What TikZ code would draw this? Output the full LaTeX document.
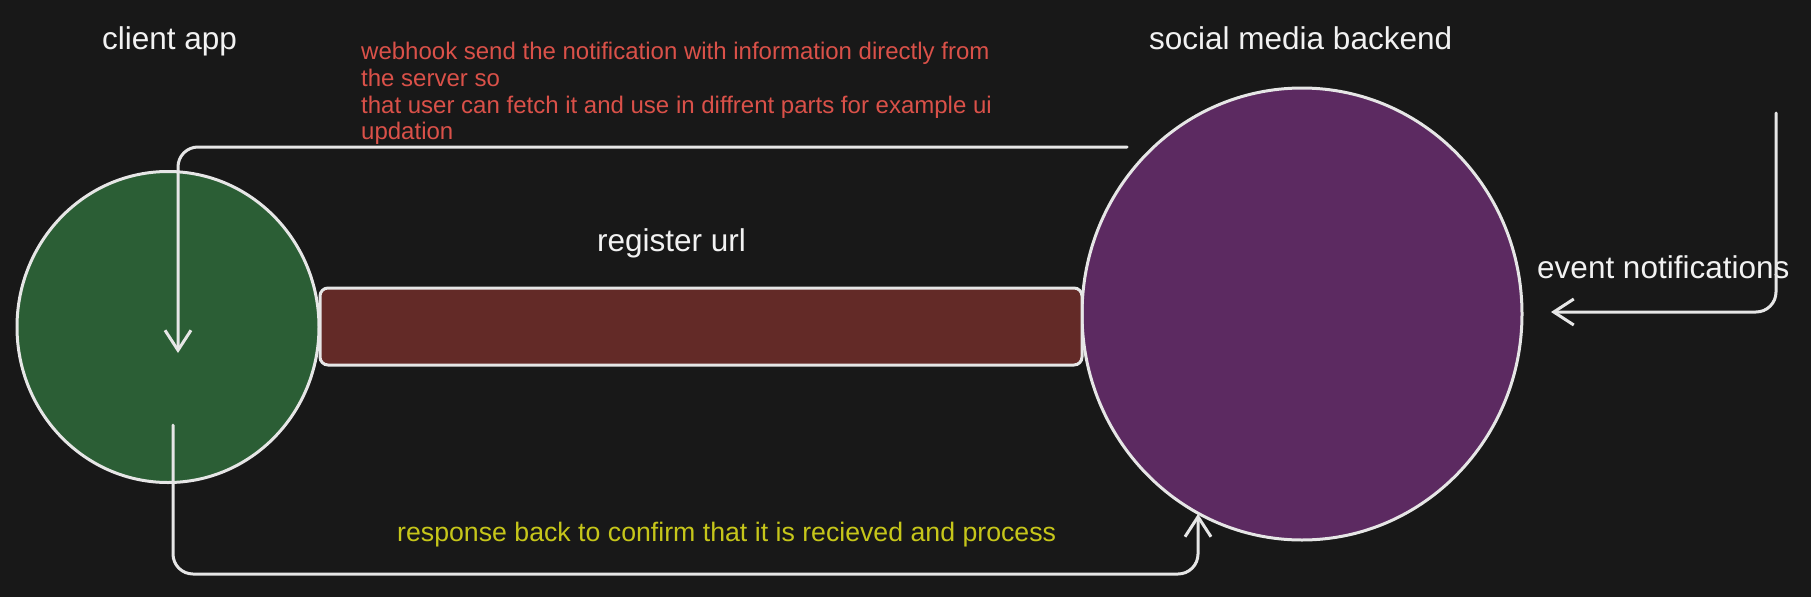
\documentclass[tikz,border=0pt]{standalone}
\usepackage{fontspec}
\setmainfont{Liberation Sans}
\usetikzlibrary{shapes.geometric,arrows.meta}
\definecolor{canvas}{HTML}{181818}
\definecolor{edge}{HTML}{E6E6E6}
\definecolor{clientgreen}{HTML}{2B5E35}
\definecolor{backendpurple}{HTML}{5C2A61}
\definecolor{barred}{HTML}{632A27}
\definecolor{hookred}{HTML}{DA5149}
\definecolor{replyyellow}{HTML}{C6C61A}
\definecolor{labelwhite}{HTML}{F2F2F2}

\begin{document}
\begin{tikzpicture}[x=1pt,y=-1pt,
  blob/.style={ellipse,draw=edge,line width=3pt,inner sep=0pt},
  wire/.style={draw=edge,line width=3pt,rounded corners=20pt,line cap=round,
    -{Straight Barb[length=20pt,width=26pt,line width=3pt]}},
  biglabel/.style={text=labelwhite,font=\fontsize{31.5}{36}\selectfont,inner sep=0pt,anchor=base west}]
\fill[canvas] (0,0) rectangle (1811,597);
\useasboundingbox (0,0) rectangle (1811,597);

% the two ends and the bar between them
\node[blob,fill=clientgreen,minimum width=302pt,minimum height=311pt] (client) at (168,327) {};
\node[blob,fill=backendpurple,minimum width=440pt,minimum height=452pt] (backend) at (1302,314) {};
\node[draw=edge,fill=barred,line width=3pt,rounded corners=8pt,minimum width=762pt,minimum height=77pt,inner sep=0pt] (regbar) at (701,326.5) {};

% labels
\node[biglabel] (clientlbl) at (102,49) {client app};
\node[biglabel] (backendlbl) at (1149,49) {social media backend};
\node[biglabel] (reglbl) at (597,251.5) {register url};
\node[biglabel] (eventlbl) at (1537,278.5) {event notifications};
\node[text=hookred,font=\fontsize{24}{26.8}\selectfont,inner sep=0pt,anchor=north west,align=left] (hooklbl) at (361,42)
  {webhook send the notification with information directly from\\the server so\\that user can fetch it and use in diffrent parts for example ui\\updation};
\node[text=replyyellow,font=\fontsize{26.7}{30}\selectfont,inner sep=0pt,anchor=base west] (replylbl) at (397,541.5)
  {response back to confirm that it is recieved and process};

% free ends of the connectors
\coordinate (hookstart) at (1127,147);
\coordinate (hookend) at (178,353);
\coordinate (replystart) at (173,425);
\coordinate (replyend) at (1198,514);
\coordinate (evstart) at (1776,113);
\coordinate (evend) at (1551,312);

\draw[wire] (hookstart) -| (hookend); %webhook
\draw[wire] (replystart) -- (replystart |- 0,574) -| (replyend); %reply
\draw[wire] (evstart) |- (evend); %events
\end{tikzpicture}
\end{document}
